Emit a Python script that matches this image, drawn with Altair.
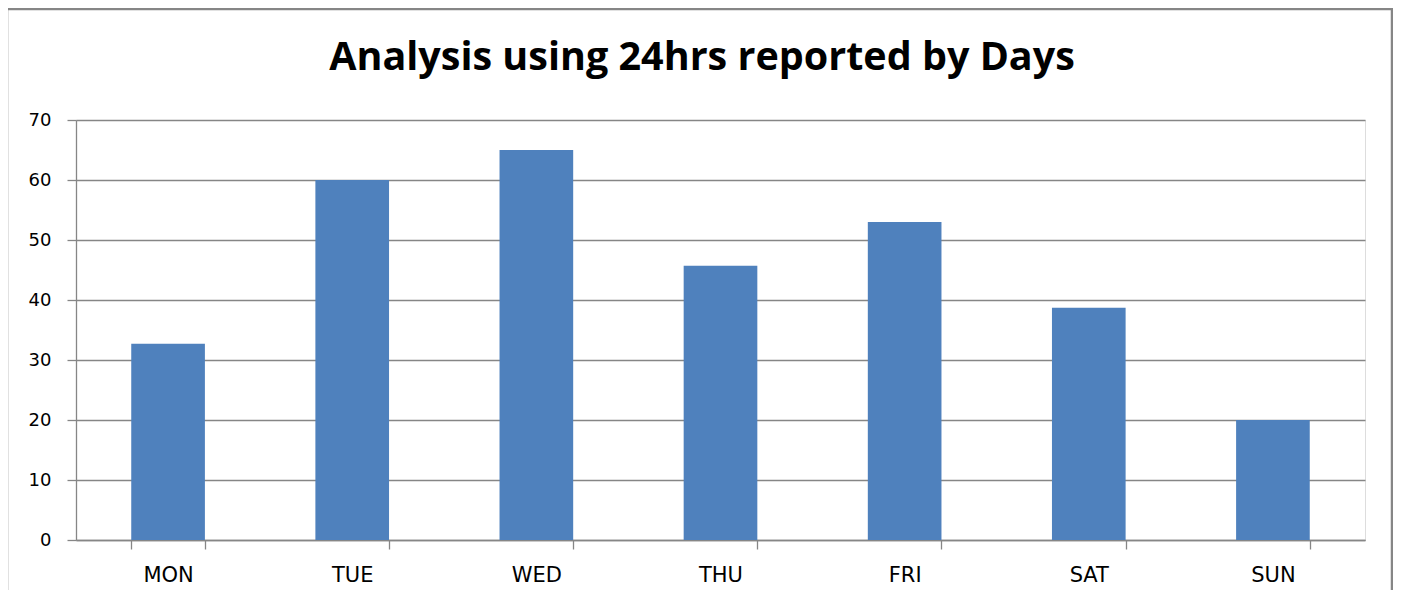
import altair as alt
import pandas as pd

days = ["MON", "TUE", "WED", "THU", "FRI", "SAT", "SUN"]
values = [32.7, 60, 65, 45.7, 53, 38.7, 20]
y_ticks = [0, 10, 20, 30, 40, 50, 60, 70]
title_text = "Analysis using 24hrs reported by Days"

df = pd.DataFrame({"day": days, "value": values})

GRID = "#868686"
LFONT = "DejaVu Sans"
TFONT = "Open Sans"

bars = alt.Chart(df).mark_bar(color="#4F81BD").encode(
    x=alt.X("day:N", sort=days, title=None,
            scale=alt.Scale(paddingInner=0.6, paddingOuter=0.3),
            axis=alt.Axis(labelAngle=0, tickBand="extent", tickSize=9,
                          tickColor=GRID, domainColor=GRID, domainWidth=1.3,
                          tickWidth=1.3, labelPadding=15, labelFontSize=21,
                          labelFont=LFONT, labelColor="#000000", grid=False)),
    y=alt.Y("value:Q", title=None,
            scale=alt.Scale(domain=[0, 70], nice=False),
            axis=alt.Axis(values=y_ticks, tickSize=9, tickColor=GRID,
                          domainColor=GRID, domainWidth=1.3, tickWidth=1.3,
                          gridColor=GRID, gridWidth=1.3, labelPadding=16,
                          labelFontSize=18, labelFont=LFONT, labelColor="#000000")),
)

deco = alt.Data(values=[{"k": 1}])

title = alt.Chart(deco).mark_text(
    text=title_text, font=TFONT, fontSize=39.5, fontWeight="bold",
    align="center", baseline="alphabetic", color="#000000"
).encode(x=alt.value(626), y=alt.value(-50))

frame_top = alt.Chart(deco).mark_rule(color=GRID, strokeWidth=2.5).encode(
    x=alt.value(-69), x2=alt.value(1316), y=alt.value(-111))
frame_left = alt.Chart(deco).mark_rule(color=GRID, strokeWidth=2.5).encode(
    x=alt.value(-69), y=alt.value(-112), y2=alt.value(480))
frame_right = alt.Chart(deco).mark_rule(color=GRID, strokeWidth=2.5).encode(
    x=alt.value(1316), y=alt.value(-112), y2=alt.value(480))

chart = alt.layer(bars, title, frame_top, frame_left, frame_right).properties(
    width=1289, height=420,
    autosize=alt.AutoSizeParams(type="none"),
    padding={"left": 68, "top": 112, "right": 28, "bottom": 50},
).configure_view(stroke=None).configure(background="white")

chart.save("out.html", embed_options={"renderer": "svg", "actions": False})
